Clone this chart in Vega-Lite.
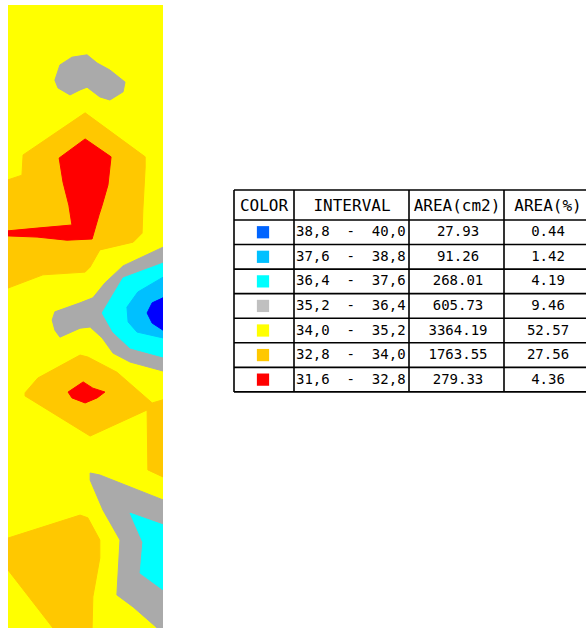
{
  "$schema": "https://vega.github.io/schema/vega-lite/v6.json",
  "padding": {"left": 8, "top": 5, "right": 0, "bottom": 0},
  "spacing": 70,
  "config": {"view": {"stroke": null}, "axis": {"disable": true}, "text": {"color": "#000000"}},
  "datasets": {
    "map": [
      {"band": "34,0 - 35,2", "poly": "Y", "i": 0, "xc": 0, "yc": 0},
      {"band": "34,0 - 35,2", "poly": "Y", "i": 1, "xc": 40, "yc": 0},
      {"band": "34,0 - 35,2", "poly": "Y", "i": 2, "xc": 40, "yc": 160},
      {"band": "34,0 - 35,2", "poly": "Y", "i": 3, "xc": 0, "yc": 160},

      {"band": "32,8 - 34,0", "poly": "O1", "i": 0, "xc": 19.9, "yc": 27.7},
      {"band": "32,8 - 34,0", "poly": "O1", "i": 1, "xc": 35.4, "yc": 39.0},
      {"band": "32,8 - 34,0", "poly": "O1", "i": 2, "xc": 35.4, "yc": 41.6},
      {"band": "32,8 - 34,0", "poly": "O1", "i": 3, "xc": 34.8, "yc": 52.7},
      {"band": "32,8 - 34,0", "poly": "O1", "i": 4, "xc": 34.6, "yc": 58.6},
      {"band": "32,8 - 34,0", "poly": "O1", "i": 5, "xc": 32.3, "yc": 60.9},
      {"band": "32,8 - 34,0", "poly": "O1", "i": 6, "xc": 23.7, "yc": 62.9},
      {"band": "32,8 - 34,0", "poly": "O1", "i": 7, "xc": 21.2, "yc": 67.3},
      {"band": "32,8 - 34,0", "poly": "O1", "i": 8, "xc": 19.9, "yc": 68.6},
      {"band": "32,8 - 34,0", "poly": "O1", "i": 9, "xc": 9.0, "yc": 69.3},
      {"band": "32,8 - 34,0", "poly": "O1", "i": 10, "xc": 0, "yc": 72.7},
      {"band": "32,8 - 34,0", "poly": "O1", "i": 11, "xc": 0, "yc": 44.9},
      {"band": "32,8 - 34,0", "poly": "O1", "i": 12, "xc": 3.6, "yc": 43.7},
      {"band": "32,8 - 34,0", "poly": "O1", "i": 13, "xc": 3.9, "yc": 38.5},

      {"band": "32,8 - 34,0", "poly": "O2", "i": 0, "xc": 4.4, "yc": 99.6},
      {"band": "32,8 - 34,0", "poly": "O2", "i": 1, "xc": 7.7, "yc": 95.8},
      {"band": "32,8 - 34,0", "poly": "O2", "i": 2, "xc": 18.6, "yc": 89.9},
      {"band": "32,8 - 34,0", "poly": "O2", "i": 3, "xc": 20.6, "yc": 90.4},
      {"band": "32,8 - 34,0", "poly": "O2", "i": 4, "xc": 28.1, "yc": 94.3},
      {"band": "32,8 - 34,0", "poly": "O2", "i": 5, "xc": 37.2, "yc": 102.2},
      {"band": "32,8 - 34,0", "poly": "O2", "i": 6, "xc": 40, "yc": 101.4},
      {"band": "32,8 - 34,0", "poly": "O2", "i": 7, "xc": 40, "yc": 121.2},
      {"band": "32,8 - 34,0", "poly": "O2", "i": 8, "xc": 36.1, "yc": 119.4},
      {"band": "32,8 - 34,0", "poly": "O2", "i": 9, "xc": 35.9, "yc": 104.0},
      {"band": "32,8 - 34,0", "poly": "O2", "i": 10, "xc": 21.2, "yc": 110.7},
      {"band": "32,8 - 34,0", "poly": "O2", "i": 11, "xc": 4.4, "yc": 100.4},

      {"band": "32,8 - 34,0", "poly": "O3", "i": 0, "xc": 0, "yc": 136.9},
      {"band": "32,8 - 34,0", "poly": "O3", "i": 1, "xc": 18.6, "yc": 131.0},
      {"band": "32,8 - 34,0", "poly": "O3", "i": 2, "xc": 20.6, "yc": 131.7},
      {"band": "32,8 - 34,0", "poly": "O3", "i": 3, "xc": 23.7, "yc": 137.4},
      {"band": "32,8 - 34,0", "poly": "O3", "i": 4, "xc": 23.7, "yc": 142.0},
      {"band": "32,8 - 34,0", "poly": "O3", "i": 5, "xc": 21.9, "yc": 152.0},
      {"band": "32,8 - 34,0", "poly": "O3", "i": 6, "xc": 21.7, "yc": 160},
      {"band": "32,8 - 34,0", "poly": "O3", "i": 7, "xc": 11.6, "yc": 160},
      {"band": "32,8 - 34,0", "poly": "O3", "i": 8, "xc": 0, "yc": 145.1},

      {"band": "31,6 - 32,8", "poly": "R1", "i": 0, "xc": 13.2, "yc": 39.3},
      {"band": "31,6 - 32,8", "poly": "R1", "i": 1, "xc": 19.9, "yc": 34.4},
      {"band": "31,6 - 32,8", "poly": "R1", "i": 2, "xc": 26.6, "yc": 39.0},
      {"band": "31,6 - 32,8", "poly": "R1", "i": 3, "xc": 25.8, "yc": 46.2},
      {"band": "31,6 - 32,8", "poly": "R1", "i": 4, "xc": 24.3, "yc": 51.4},
      {"band": "31,6 - 32,8", "poly": "R1", "i": 5, "xc": 23.5, "yc": 53.9},
      {"band": "31,6 - 32,8", "poly": "R1", "i": 6, "xc": 21.7, "yc": 60.1},
      {"band": "31,6 - 32,8", "poly": "R1", "i": 7, "xc": 15.2, "yc": 60.4},
      {"band": "31,6 - 32,8", "poly": "R1", "i": 8, "xc": 7.5, "yc": 59.6},
      {"band": "31,6 - 32,8", "poly": "R1", "i": 9, "xc": 0, "yc": 59.3},
      {"band": "31,6 - 32,8", "poly": "R1", "i": 10, "xc": 0, "yc": 58.0},
      {"band": "31,6 - 32,8", "poly": "R1", "i": 11, "xc": 7.5, "yc": 57.3},
      {"band": "31,6 - 32,8", "poly": "R1", "i": 12, "xc": 16.5, "yc": 56.5},
      {"band": "31,6 - 32,8", "poly": "R1", "i": 13, "xc": 15.7, "yc": 51.4},
      {"band": "31,6 - 32,8", "poly": "R1", "i": 14, "xc": 14.2, "yc": 45.5},

      {"band": "31,6 - 32,8", "poly": "R2", "i": 0, "xc": 15.5, "yc": 99.4},
      {"band": "31,6 - 32,8", "poly": "R2", "i": 1, "xc": 19.4, "yc": 96.8},
      {"band": "31,6 - 32,8", "poly": "R2", "i": 2, "xc": 21.9, "yc": 98.4},
      {"band": "31,6 - 32,8", "poly": "R2", "i": 3, "xc": 25.0, "yc": 99.4},
      {"band": "31,6 - 32,8", "poly": "R2", "i": 4, "xc": 23.0, "yc": 100.9},
      {"band": "31,6 - 32,8", "poly": "R2", "i": 5, "xc": 19.9, "yc": 102.2},
      {"band": "31,6 - 32,8", "poly": "R2", "i": 6, "xc": 16.5, "yc": 100.9},

      {"band": "35,2 - 36,4", "poly": "G1", "i": 0, "xc": 12.1, "yc": 19.3},
      {"band": "35,2 - 36,4", "poly": "G1", "i": 1, "xc": 13.4, "yc": 15.4},
      {"band": "35,2 - 36,4", "poly": "G1", "i": 2, "xc": 16.5, "yc": 13.4},
      {"band": "35,2 - 36,4", "poly": "G1", "i": 3, "xc": 20.4, "yc": 12.8},
      {"band": "35,2 - 36,4", "poly": "G1", "i": 4, "xc": 23.0, "yc": 14.9},
      {"band": "35,2 - 36,4", "poly": "G1", "i": 5, "xc": 26.3, "yc": 16.7},
      {"band": "35,2 - 36,4", "poly": "G1", "i": 6, "xc": 30.2, "yc": 19.8},
      {"band": "35,2 - 36,4", "poly": "G1", "i": 7, "xc": 29.7, "yc": 22.3},
      {"band": "35,2 - 36,4", "poly": "G1", "i": 8, "xc": 26.3, "yc": 24.4},
      {"band": "35,2 - 36,4", "poly": "G1", "i": 9, "xc": 23.7, "yc": 23.6},
      {"band": "35,2 - 36,4", "poly": "G1", "i": 10, "xc": 20.4, "yc": 21.1},
      {"band": "35,2 - 36,4", "poly": "G1", "i": 11, "xc": 18.6, "yc": 21.8},
      {"band": "35,2 - 36,4", "poly": "G1", "i": 12, "xc": 16.0, "yc": 23.1},
      {"band": "35,2 - 36,4", "poly": "G1", "i": 13, "xc": 12.9, "yc": 21.3},

      {"band": "35,2 - 36,4", "poly": "G2", "i": 0, "xc": 40, "yc": 62.2},
      {"band": "35,2 - 36,4", "poly": "G2", "i": 1, "xc": 29.7, "yc": 67.0},
      {"band": "35,2 - 36,4", "poly": "G2", "i": 2, "xc": 25.0, "yc": 71.4},
      {"band": "35,2 - 36,4", "poly": "G2", "i": 3, "xc": 21.9, "yc": 75.2},
      {"band": "35,2 - 36,4", "poly": "G2", "i": 4, "xc": 18.6, "yc": 76.5},
      {"band": "35,2 - 36,4", "poly": "G2", "i": 5, "xc": 12.1, "yc": 78.8},
      {"band": "35,2 - 36,4", "poly": "G2", "i": 6, "xc": 11.4, "yc": 80.9},
      {"band": "35,2 - 36,4", "poly": "G2", "i": 7, "xc": 12.1, "yc": 83.5},
      {"band": "35,2 - 36,4", "poly": "G2", "i": 8, "xc": 13.4, "yc": 85.3},
      {"band": "35,2 - 36,4", "poly": "G2", "i": 9, "xc": 18.6, "yc": 83.0},
      {"band": "35,2 - 36,4", "poly": "G2", "i": 10, "xc": 21.2, "yc": 82.7},
      {"band": "35,2 - 36,4", "poly": "G2", "i": 11, "xc": 24.3, "yc": 85.5},
      {"band": "35,2 - 36,4", "poly": "G2", "i": 12, "xc": 27.1, "yc": 89.4},
      {"band": "35,2 - 36,4", "poly": "G2", "i": 13, "xc": 31.5, "yc": 91.7},
      {"band": "35,2 - 36,4", "poly": "G2", "i": 14, "xc": 40, "yc": 94.0},

      {"band": "35,2 - 36,4", "poly": "G3", "i": 0, "xc": 21.2, "yc": 120.2},
      {"band": "35,2 - 36,4", "poly": "G3", "i": 1, "xc": 23.7, "yc": 120.7},
      {"band": "35,2 - 36,4", "poly": "G3", "i": 2, "xc": 40, "yc": 127.1},
      {"band": "35,2 - 36,4", "poly": "G3", "i": 3, "xc": 40, "yc": 160},
      {"band": "35,2 - 36,4", "poly": "G3", "i": 4, "xc": 38.5, "yc": 160},
      {"band": "35,2 - 36,4", "poly": "G3", "i": 5, "xc": 32.3, "yc": 154.6},
      {"band": "35,2 - 36,4", "poly": "G3", "i": 6, "xc": 28.1, "yc": 151.5},
      {"band": "35,2 - 36,4", "poly": "G3", "i": 7, "xc": 28.9, "yc": 137.4},
      {"band": "35,2 - 36,4", "poly": "G3", "i": 8, "xc": 24.5, "yc": 129.7},
      {"band": "35,2 - 36,4", "poly": "G3", "i": 9, "xc": 21.2, "yc": 122.0},

      {"band": "36,4 - 37,6", "poly": "C1", "i": 0, "xc": 40, "yc": 66.3},
      {"band": "36,4 - 37,6", "poly": "C1", "i": 1, "xc": 29.7, "yc": 70.1},
      {"band": "36,4 - 37,6", "poly": "C1", "i": 2, "xc": 24.3, "yc": 79.1},
      {"band": "36,4 - 37,6", "poly": "C1", "i": 3, "xc": 27.1, "yc": 84.0},
      {"band": "36,4 - 37,6", "poly": "C1", "i": 4, "xc": 31.5, "yc": 88.1},
      {"band": "36,4 - 37,6", "poly": "C1", "i": 5, "xc": 40, "yc": 90.4},

      {"band": "36,4 - 37,6", "poly": "C2", "i": 0, "xc": 31.5, "yc": 130.5},
      {"band": "36,4 - 37,6", "poly": "C2", "i": 1, "xc": 40, "yc": 133.5},
      {"band": "36,4 - 37,6", "poly": "C2", "i": 2, "xc": 40, "yc": 150.2},
      {"band": "36,4 - 37,6", "poly": "C2", "i": 3, "xc": 34.1, "yc": 145.9},
      {"band": "36,4 - 37,6", "poly": "C2", "i": 4, "xc": 34.8, "yc": 138.0},

      {"band": "37,6 - 38,8", "poly": "L1", "i": 0, "xc": 40, "yc": 69.9},
      {"band": "37,6 - 38,8", "poly": "L1", "i": 1, "xc": 33.5, "yc": 73.7},
      {"band": "37,6 - 38,8", "poly": "L1", "i": 2, "xc": 30.7, "yc": 77.6},
      {"band": "37,6 - 38,8", "poly": "L1", "i": 3, "xc": 31.0, "yc": 81.4},
      {"band": "37,6 - 38,8", "poly": "L1", "i": 4, "xc": 33.3, "yc": 84.0},
      {"band": "37,6 - 38,8", "poly": "L1", "i": 5, "xc": 40, "yc": 85.5},

      {"band": "38,8 - 40,0", "poly": "B1", "i": 0, "xc": 40, "yc": 75.2},
      {"band": "38,8 - 40,0", "poly": "B1", "i": 1, "xc": 37.2, "yc": 76.5},
      {"band": "38,8 - 40,0", "poly": "B1", "i": 2, "xc": 35.9, "yc": 79.1},
      {"band": "38,8 - 40,0", "poly": "B1", "i": 3, "xc": 37.2, "yc": 81.7},
      {"band": "38,8 - 40,0", "poly": "B1", "i": 4, "xc": 40, "yc": 83.5}
    ],
    "table": [
      {"row": 1, "interval": "38,8\u00a0\u00a0-\u00a0\u00a040,0", "area": 27.93, "pct": 0.44},
      {"row": 2, "interval": "37,6\u00a0\u00a0-\u00a0\u00a038,8", "area": 91.26, "pct": 1.42},
      {"row": 3, "interval": "36,4\u00a0\u00a0-\u00a0\u00a037,6", "area": 268.01, "pct": 4.19},
      {"row": 4, "interval": "35,2\u00a0\u00a0-\u00a0\u00a036,4", "area": 605.73, "pct": 9.46},
      {"row": 5, "interval": "34,0\u00a0\u00a0-\u00a0\u00a035,2", "area": 3364.19, "pct": 52.57},
      {"row": 6, "interval": "32,8\u00a0\u00a0-\u00a0\u00a034,0", "area": 1763.55, "pct": 27.56},
      {"row": 7, "interval": "31,6\u00a0\u00a0-\u00a0\u00a032,8", "area": 279.33, "pct": 4.36}
    ]
  },
  "hconcat": [
    {
      "width": 155,
      "height": 623,
      "data": {"name": "map"},
      "encoding": {
        "x": {"field": "xc", "type": "quantitative", "scale": {"domain": [0, 40], "nice": false, "zero": false}, "axis": null},
        "y": {"field": "yc", "type": "quantitative", "scale": {"domain": [0, 160], "nice": false, "zero": false, "reverse": true}, "axis": null},
        "detail": {"field": "poly", "type": "nominal"},
        "order": {"field": "i", "type": "quantitative"}
      },
      "layer": [
        {"transform": [{"filter": "datum.band === '34,0 - 35,2'"}],
         "mark": {"type": "line", "interpolate": "linear-closed", "fill": "#ffff00", "stroke": "#ffff00", "strokeWidth": 1, "clip": true}},
        {"transform": [{"filter": "datum.band === '32,8 - 34,0'"}],
         "mark": {"type": "line", "interpolate": "linear-closed", "fill": "#ffc800", "stroke": "#ffc800", "strokeWidth": 1, "clip": true}},
        {"transform": [{"filter": "datum.band === '31,6 - 32,8'"}],
         "mark": {"type": "line", "interpolate": "linear-closed", "fill": "#ff0000", "stroke": "#ff0000", "strokeWidth": 1, "clip": true}},
        {"transform": [{"filter": "datum.band === '35,2 - 36,4'"}],
         "mark": {"type": "line", "interpolate": "linear-closed", "fill": "#aaaaaa", "stroke": "#aaaaaa", "strokeWidth": 1, "clip": true}},
        {"transform": [{"filter": "datum.band === '36,4 - 37,6'"}],
         "mark": {"type": "line", "interpolate": "linear-closed", "fill": "#00ffff", "stroke": "#00ffff", "strokeWidth": 1, "clip": true}},
        {"transform": [{"filter": "datum.band === '37,6 - 38,8'"}],
         "mark": {"type": "line", "interpolate": "linear-closed", "fill": "#00c0ff", "stroke": "#00c0ff", "strokeWidth": 1, "clip": true}},
        {"transform": [{"filter": "datum.band === '38,8 - 40,0'"}],
         "mark": {"type": "line", "interpolate": "linear-closed", "fill": "#0000ff", "stroke": "#0000ff", "strokeWidth": 1, "clip": true}}
      ]
    },
    {
      "width": 353,
      "height": 623,
      "data": {"name": "table"},
      "layer": [
        {"mark": {"type": "rule", "stroke": "#000000", "strokeWidth": 1.6, "yOffset": -12.28},
         "encoding": {
           "y": {"field": "row", "type": "quantitative", "scale": {"domain": [-8.25, 17.11], "nice": false, "zero": false, "reverse": true}, "axis": null},
           "x": {"datum": 0, "type": "quantitative", "scale": {"domain": [0, 353], "nice": false, "zero": false}, "axis": null},
           "x2": {"datum": 353}
         }},
        {"data": {"values": [{}]},
         "mark": {"type": "rule", "stroke": "#000000", "strokeWidth": 1.6},
         "encoding": {"y": {"datum": -0.72, "type": "quantitative"}, "x": {"datum": 0, "type": "quantitative"}, "x2": {"datum": 353}}},
        {"data": {"values": [{}]},
         "mark": {"type": "rule", "stroke": "#000000", "strokeWidth": 1.6},
         "encoding": {"y": {"datum": 7.5, "type": "quantitative"}, "x": {"datum": 0, "type": "quantitative"}, "x2": {"datum": 353}}},
        {"data": {"values": [{}]},
         "mark": {"type": "rule", "stroke": "#000000", "strokeWidth": 1.6},
         "encoding": {"x": {"datum": 0, "type": "quantitative"}, "y": {"datum": -0.72, "type": "quantitative"}, "y2": {"datum": 7.5}}},
        {"data": {"values": [{}]},
         "mark": {"type": "rule", "stroke": "#000000", "strokeWidth": 1.6},
         "encoding": {"x": {"datum": 60, "type": "quantitative"}, "y": {"datum": -0.72, "type": "quantitative"}, "y2": {"datum": 7.5}}},
        {"data": {"values": [{}]},
         "mark": {"type": "rule", "stroke": "#000000", "strokeWidth": 1.6},
         "encoding": {"x": {"datum": 175, "type": "quantitative"}, "y": {"datum": -0.72, "type": "quantitative"}, "y2": {"datum": 7.5}}},
        {"data": {"values": [{}]},
         "mark": {"type": "rule", "stroke": "#000000", "strokeWidth": 1.6},
         "encoding": {"x": {"datum": 270, "type": "quantitative"}, "y": {"datum": -0.72, "type": "quantitative"}, "y2": {"datum": 7.5}}},
        {"data": {"values": [{}]},
         "mark": {"type": "text", "text": "COLOR", "font": "DejaVu Sans Mono", "fontSize": 16, "align": "center", "baseline": "middle"},
         "encoding": {"x": {"datum": 30, "type": "quantitative"}, "y": {"datum": -0.08, "type": "quantitative"}}},
        {"data": {"values": [{}]},
         "mark": {"type": "text", "text": "INTERVAL", "font": "DejaVu Sans Mono", "fontSize": 16, "align": "center", "baseline": "middle"},
         "encoding": {"x": {"datum": 118, "type": "quantitative"}, "y": {"datum": -0.08, "type": "quantitative"}}},
        {"data": {"values": [{}]},
         "mark": {"type": "text", "text": "AREA(cm2)", "font": "DejaVu Sans Mono", "fontSize": 16, "align": "center", "baseline": "middle"},
         "encoding": {"x": {"datum": 223, "type": "quantitative"}, "y": {"datum": -0.08, "type": "quantitative"}}},
        {"data": {"values": [{}]},
         "mark": {"type": "text", "text": "AREA(%)", "font": "DejaVu Sans Mono", "fontSize": 16, "align": "center", "baseline": "middle"},
         "encoding": {"x": {"datum": 314, "type": "quantitative"}, "y": {"datum": -0.08, "type": "quantitative"}}},
        {"mark": {"type": "point", "shape": "square", "filled": true, "size": 150, "opacity": 1},
         "encoding": {
           "x": {"datum": 29, "type": "quantitative"},
           "y": {"field": "row", "type": "quantitative"},
           "color": {"field": "row", "type": "nominal", "legend": null,
             "scale": {"domain": [1, 2, 3, 4, 5, 6, 7],
                       "range": ["#0064ff", "#00c0ff", "#00ffff", "#c0c0c0", "#ffff00", "#ffc800", "#ff0000"]}}
         }},
        {"mark": {"type": "text", "font": "DejaVu Sans Mono", "fontSize": 14, "align": "left", "baseline": "middle"},
         "encoding": {"x": {"datum": 62, "type": "quantitative"}, "y": {"field": "row", "type": "quantitative"}, "text": {"field": "interval"}}},
        {"mark": {"type": "text", "font": "DejaVu Sans Mono", "fontSize": 14, "align": "center", "baseline": "middle"},
         "encoding": {"x": {"datum": 224, "type": "quantitative"}, "y": {"field": "row", "type": "quantitative"}, "text": {"field": "area", "type": "quantitative", "format": ".2f"}}},
        {"mark": {"type": "text", "font": "DejaVu Sans Mono", "fontSize": 14, "align": "center", "baseline": "middle"},
         "encoding": {"x": {"datum": 314, "type": "quantitative"}, "y": {"field": "row", "type": "quantitative"}, "text": {"field": "pct", "type": "quantitative", "format": ".2f"}}}
      ]
    }
  ]
}
